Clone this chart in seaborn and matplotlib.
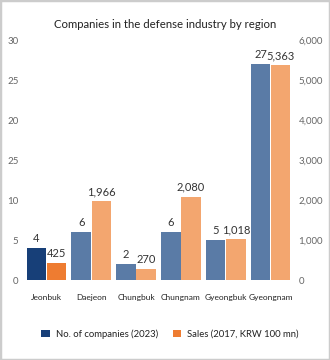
import matplotlib
matplotlib.use("Agg")
import matplotlib.pyplot as plt
import seaborn as sns
import pandas as pd
from matplotlib.patches import Rectangle, Patch

regions = ["Jeonbuk", "Daejeon", "Chungbuk", "Chungnam", "Gyeongbuk", "Gyeongnam"]
companies = [4, 6, 2, 6, 5, 27]
sales = [425, 1966, 270, 2080, 1018, 5363]
company_label = "No. of companies (2023)"
sales_label = "Sales (2017, KRW 100 mn)"
left_ticks = [0, 5, 10, 15, 20, 25, 30]
left_tick_labels = ["0", "5", "10", "25", "20", "25", "30"]
right_ticks = [0, 1000, 2000, 3000, 4000, 5000, 6000]
title = "Companies in the defense industry by region"

sns.set_theme(style="white")
plt.rcParams["font.family"] = ["Lato", "DejaVu Sans"]

blue = "#5a7ba6"
lorange = "#f3a66f"
navy = "#173f78"
orange = "#ee7c31"
highlight = "Jeonbuk"

df1 = pd.DataFrame({
    "region": regions * 2,
    "series": [company_label] * len(regions) + [sales_label] * len(regions),
    "value": companies + [0] * len(regions),
})
df2 = pd.DataFrame({
    "region": regions * 2,
    "series": [company_label] * len(regions) + [sales_label] * len(regions),
    "value": [0] * len(regions) + sales,
})

fig = plt.figure(figsize=(3.3, 3.6), dpi=100)
ax = fig.add_axes([24 / 330, 80 / 360, 269 / 330, 240 / 360])
ax2 = ax.twinx()

pal = {company_label: blue, sales_label: lorange}
sns.barplot(data=df1, x="region", y="value", hue="series", palette=pal,
            order=regions, hue_order=[company_label, sales_label],
            width=0.9, gap=0.03, linewidth=0, saturation=1, ax=ax, legend=False)
sns.barplot(data=df2, x="region", y="value", hue="series", palette=pal,
            order=regions, hue_order=[company_label, sales_label],
            width=0.9, gap=0.03, linewidth=0, saturation=1, ax=ax2, legend=False)

hi = regions.index(highlight)
ax.containers[0][hi].set_facecolor(navy)
ax2.containers[1][hi].set_facecolor(orange)

ax.bar_label(ax.containers[0], labels=[str(v) for v in companies],
             padding=3, fontsize=8, color="#333333")
ax2.bar_label(ax2.containers[1], labels=[f"{v:,}" for v in sales],
              padding=3, fontsize=8, color="#333333")

ax.set_ylim(0, 30)
ax2.set_ylim(0, 6000)
ax.set_xlim(-0.5, len(regions) - 0.5)
ax.set_yticks(left_ticks)
ax.set_yticklabels(left_tick_labels)
ax2.set_yticks(right_ticks)
ax2.set_yticklabels([f"{v:,}" for v in right_ticks])
ax.set_xlabel("")
ax.set_ylabel("")
ax2.set_ylabel("")

for a in (ax, ax2):
    for s in a.spines.values():
        s.set_visible(False)
    a.tick_params(length=0)
ax.tick_params(axis="y", labelsize=7, labelcolor="#666666", pad=4)
ax2.tick_params(axis="y", labelsize=7, labelcolor="#666666", pad=4)
ax.tick_params(axis="x", labelsize=6, labelcolor="#222222", pad=10)

fig.text(0.5, 1 - 25 / 360, title, ha="center", va="center",
         fontsize=8.2, color="#222222")

handles = [Patch(facecolor=navy, edgecolor="none", label=company_label),
           Patch(facecolor=orange, edgecolor="none", label=sales_label)]
fig.legend(handles=handles, loc="center", bbox_to_anchor=(0.515, 1 - 334 / 360),
           ncol=2, frameon=False, fontsize=6.8, handlelength=0.9, handleheight=0.9,
           columnspacing=1.6, handletextpad=0.6, labelcolor="#222222")

fig.patches.append(Rectangle((0, 0), 1, 1, transform=fig.transFigure,
                             fill=False, edgecolor="#cccccc", linewidth=2.5))

fig.savefig("out.png", dpi=100)
